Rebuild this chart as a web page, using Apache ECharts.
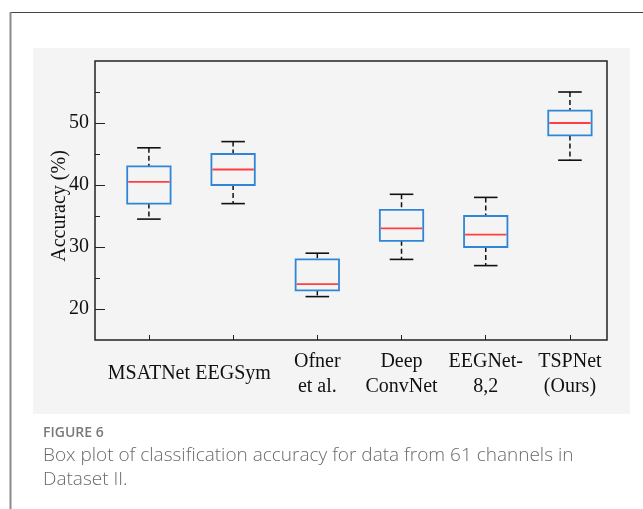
<!DOCTYPE html>
<html>
<head>
<meta charset="utf-8">
<script src="https://cdn.jsdelivr.net/npm/echarts@6/dist/echarts.min.js"></script>
<style>
html,body{margin:0;padding:0;background:#fff;}
#chart{width:643px;height:509px;}
</style>
</head>
<body>
<div id="chart"></div>
<script>
const categories = ['MSATNet', 'EEGSym', 'Ofner\net al.', 'Deep\nConvNet', 'EEGNet-\n8,2', 'TSPNet\n(Ours)'];
const whiskerLow  = [34.5, 37, 22, 28, 27, 44];
const q1Values    = [37, 40, 23, 31, 30, 48];
const medians     = [40.5, 42.5, 24, 33, 32, 50];
const q3Values    = [43, 45, 28, 36, 35, 52];
const whiskerHigh = [46, 47, 29, 38.5, 38, 55];
const yMajorTicks = [20, 30, 40, 50];
const yMinorTicks = [25, 35, 45, 55];
const xTicks = [1, 2, 3, 4, 5, 6];

const boxData = categories.map((c, i) => [i + 1, whiskerLow[i], q1Values[i], medians[i], q3Values[i], whiskerHigh[i]]);

const chart = echarts.init(document.getElementById('chart'));
const serif = 'Liberation Serif';
const BOX_W = 0.515, CAP_W = 0.28;

function renderBox(params, api) {
  const x = api.value(0);
  const lo = api.coord([x, api.value(1)]);
  const b1 = api.coord([x, api.value(2)]);
  const md = api.coord([x, api.value(3)]);
  const b3 = api.coord([x, api.value(4)]);
  const hi = api.coord([x, api.value(5)]);
  const bw = api.size([BOX_W, 0])[0];
  const cw = api.size([CAP_W, 0])[0];
  const cx = lo[0];
  const dash = { stroke: '#111', lineWidth: 1.5, lineDash: [5, 3] };
  const cap = { stroke: '#111', lineWidth: 1.6 };
  return {
    type: 'group',
    children: [
      { type: 'line', shape: { x1: cx, y1: hi[1], x2: cx, y2: b3[1] }, style: dash },
      { type: 'line', shape: { x1: cx, y1: b1[1], x2: cx, y2: lo[1] }, style: dash },
      { type: 'line', shape: { x1: cx - cw / 2, y1: hi[1], x2: cx + cw / 2, y2: hi[1] }, style: cap },
      { type: 'line', shape: { x1: cx - cw / 2, y1: lo[1], x2: cx + cw / 2, y2: lo[1] }, style: cap },
      { type: 'rect', shape: { x: cx - bw / 2, y: b3[1], width: bw, height: b1[1] - b3[1] },
        style: { fill: 'none', stroke: '#2f86d6', lineWidth: 1.8 } },
      { type: 'line', shape: { x1: cx - bw / 2 + 1, y1: md[1], x2: cx + bw / 2 - 1, y2: md[1] },
        style: { stroke: '#ff3f3f', lineWidth: 1.8 } }
    ]
  };
}

const option = {
  animation: false,
  backgroundColor: '#ffffff',
  graphic: [
    { type: 'rect', z: -10, shape: { x: 33, y: 48, width: 597, height: 366 }, style: { fill: '#f4f4f4' } },
    { type: 'line', shape: { x1: 10, y1: 12.5, x2: 643, y2: 12.5 }, style: { stroke: '#444', lineWidth: 1.2 } },
    { type: 'line', shape: { x1: 10.5, y1: 12, x2: 10.5, y2: 509 }, style: { stroke: '#8a8a8a', lineWidth: 2 } },
    { type: 'text', left: 43, top: 426, style: { text: 'FIGURE 6', font: '600 14px "Open Sans"', fill: '#7a7a7a' } },
    { type: 'text', left: 43, top: 444, style: { text: 'Box plot of classification accuracy for data from 61 channels in\nDataset II.',
      font: '300 19px "Open Sans"', lineHeight: 24, fill: '#6a6a6a' } }
  ],
  grid: { left: 95, top: 61, width: 512, height: 279, show: true, borderColor: '#222', borderWidth: 1.5, backgroundColor: 'transparent' },
  xAxis: {
    type: 'value', min: 0.36, max: 6.44,
    splitLine: { show: false },
    axisLine: { show: false },
    axisTick: { show: true, inside: true, length: 5, customValues: xTicks, lineStyle: { color: '#222', width: 1 } },
    axisLabel: {
      customValues: xTicks, margin: 34, verticalAlign: 'middle',
      formatter: v => categories[Math.round(v) - 1],
      fontFamily: serif, fontSize: 20, lineHeight: 25, color: '#111'
    }
  },
  yAxis: [
    {
      type: 'value', min: 15, max: 60,
      name: 'Accuracy (%)', nameLocation: 'middle', nameGap: 25, nameMoveOverlap: false,
      nameTextStyle: { fontFamily: serif, fontSize: 20, color: '#111', padding: [0, 0, 0, -11] },
      splitLine: { show: false },
      axisLine: { show: false },
      axisTick: { show: true, inside: true, length: 10, customValues: yMajorTicks, lineStyle: { color: '#222', width: 1 } },
      axisLabel: { customValues: yMajorTicks, margin: 6, fontFamily: serif, fontSize: 20, color: '#111' }
    },
    {
      type: 'value', min: 15, max: 60, position: 'left',
      splitLine: { show: false },
      axisLine: { show: false },
      axisTick: { show: true, inside: true, length: 5, customValues: yMinorTicks, lineStyle: { color: '#222', width: 1 } },
      axisLabel: { show: false }
    }
  ],
  series: [{
    type: 'custom',
    renderItem: renderBox,
    data: boxData,
    encode: { x: 0, y: [1, 2, 3, 4, 5] },
    z: 5
  }]
};
chart.setOption(option);
</script>
</body>
</html>
